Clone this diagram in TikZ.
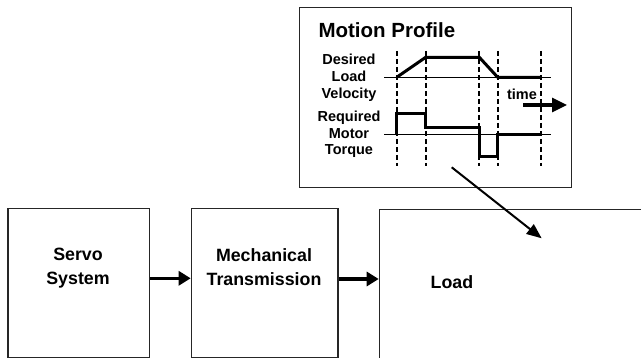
\documentclass[tikz,border=0pt]{standalone}
\usepackage{fontspec}
\setmainfont{Liberation Sans}
\usetikzlibrary{arrows.meta}
\begin{document}
\begin{tikzpicture}[x=1pt,y=-1pt,
  block/.style={draw=black!85, line width=1.2pt, inner sep=0pt, anchor=north west},
  bigtext/.style={font=\fontsize{17.8}{24}\selectfont\bfseries, align=center, inner sep=0pt},
  smalltext/.style={font=\fontsize{14.5}{16.8}\selectfont\bfseries, align=center, inner sep=0pt},
  flowarrow/.style={line width=3.2pt, -{Triangle[length=12pt,width=14pt]}},
  thinarrow/.style={line width=2pt, -{Triangle[length=15pt,width=12pt]}},
  dashline/.style={line width=1.8pt, dash pattern=on 5pt off 3pt},
  baseline/.style={line width=1pt},
  profile/.style={line width=3pt, line join=miter}]
\useasboundingbox (0,0) rectangle (641,358);
% blocks
\node[block, minimum width=141.4pt, minimum height=148.4pt] (servo) at (7.3,208.3) {};
\node[block, minimum width=146.6pt, minimum height=148.4pt] (mech) at (190.7,208.3) {};
\node[block, minimum width=290pt, minimum height=160pt] (load) at (378.7,209.3) {};
\node[block, minimum width=272pt, minimum height=180.3pt] (prof) at (299,7) {};
% block texts
\node[bigtext] (servotxt) at (78,268) {Servo\\System};
\node[bigtext] (mechtxt) at (264,267.5) {Mechanical\\Transmission};
\node[bigtext] (loadtxt) at (452,281.7) {Load};
% flow arrows
\coordinate (a1) at (0,278.3);
\coordinate (a2) at (0,279);
\draw[flowarrow] (servo.east |- a1) -- (mech.west |- a1);
\draw[flowarrow] (mech.east |- a2) -- (load.west |- a2);
% motion profile
\node[font=\fontsize{20.5}{24}\selectfont\bfseries, anchor=base west, inner sep=0pt] (title) at (318.3,37.7) {Motion Profile};
\node[smalltext] (vlab) at (349,77.5) {Desired\\Load\\Velocity};
\node[smalltext] (tlab) at (349,134.3) {Required\\Motor\\Torque};
\foreach \x in {396.7,425.7,479.3,497.7,540.7}
  \draw[dashline] (\x,51) -- (\x,166);
\draw[baseline] (384,77.3) -- (550.7,77.3);
\draw[baseline] (384,135) -- (550.7,135);
\draw[profile] (396.7,77.3) -- (425.7,57.3) -- (479.3,57.3) -- (497.7,77.3) -- (540.7,77.3);
\draw[profile] (396.7,135) -- (396.7,113.3) -- (425.7,113.3) -- (425.7,127.7) -- (479.3,127.7)
  -- (479.3,156.7) -- (497.7,156.7) -- (497.7,135) -- (540.7,135);
\node[font=\fontsize{14.5}{16}\selectfont\bfseries, anchor=base, inner sep=0pt] (timetxt) at (522,100) {time};
\coordinate (ts) at (523.3,105);
\coordinate (te) at (567,105);
\draw[line width=3.2pt, -{Triangle[length=15pt,width=14pt]}] (ts) -- (te);
% link arrow
\coordinate (ds) at (451.7,167.3);
\coordinate (de) at (541.7,238.3);
\draw[thinarrow] (ds) -- (de);
\end{tikzpicture}
\end{document}
